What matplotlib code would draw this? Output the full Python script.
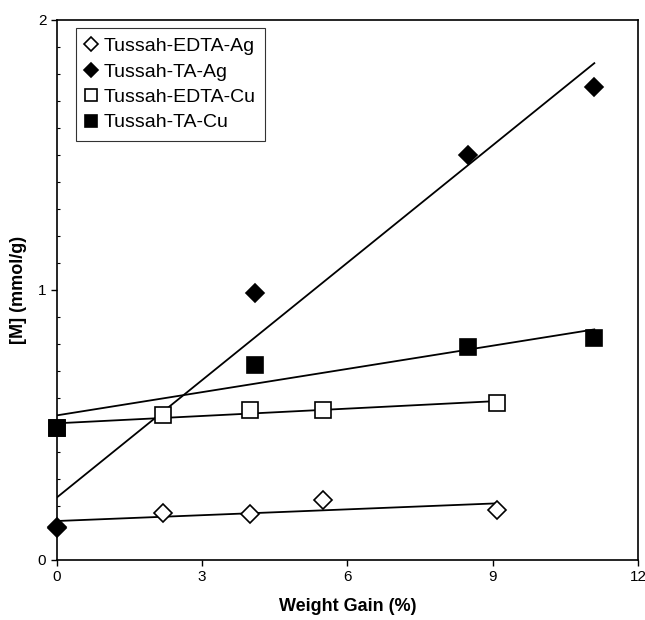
import numpy as np
import matplotlib
matplotlib.use("Agg")
import matplotlib.pyplot as plt
from matplotlib.ticker import MultipleLocator

plt.rcParams['font.family'] = ['Liberation Sans', 'DejaVu Sans']

# weight gain (%) and metal uptake [M] (mmol/g)
x_edta_ag = [0, 2.2, 4.0, 5.5, 9.1]
y_edta_ag = [0.12, 0.174, 0.17, 0.22, 0.185]

x_ta_ag = [0, 4.1, 8.5, 11.1]
y_ta_ag = [0.118, 0.99, 1.50, 1.75]

x_edta_cu = [0, 2.2, 4.0, 5.5, 9.1]
y_edta_cu = [0.49, 0.537, 0.555, 0.555, 0.58]

x_ta_cu = [0, 4.1, 8.5, 11.1]
y_ta_cu = [0.49, 0.72, 0.79, 0.82]

series = [
    ("Tussah-EDTA-Ag", x_edta_ag, y_edta_ag, "D", "white", 9),
    ("Tussah-TA-Ag", x_ta_ag, y_ta_ag, "D", "black", 9),
    ("Tussah-EDTA-Cu", x_edta_cu, y_edta_cu, "s", "white", 11),
    ("Tussah-TA-Cu", x_ta_cu, y_ta_cu, "s", "black", 11),
]

fig = plt.figure(figsize=(6.45, 6.2), dpi=100)
ax = fig.add_axes([0.088, 0.097, 0.901, 0.871])

for label, xs, ys, mk, fc, ms in series:
    xs = np.array(xs)
    ys = np.array(ys)
    # linear trendline over the range of each series
    k, b = np.polyfit(xs, ys, 1)
    xl = np.array([xs.min(), xs.max()])
    ax.plot(xl, k * xl + b, color="black", lw=1.3, zorder=2)
    ax.plot(xs, ys, linestyle="none", marker=mk, ms=ms, mfc=fc,
            mec="black", mew=1.2, label=label, zorder=3, clip_on=False)

ax.set_xlim(0, 12)
ax.set_ylim(0, 2)
ax.set_xticks([0, 3, 6, 9, 12])
ax.set_yticks([0, 1, 2])
ax.yaxis.set_minor_locator(MultipleLocator(0.1))
ax.tick_params(axis="both", which="major", direction="out", length=4,
               labelsize=11, width=1)
ax.tick_params(axis="y", which="minor", direction="in", length=2, width=0.8)
for s in ax.spines.values():
    s.set_linewidth(1.2)

ax.set_xlabel("Weight Gain (%)", fontsize=13, fontweight="bold", labelpad=10)
ax.set_ylabel("[M] (mmol/g)", fontsize=13, fontweight="bold", labelpad=8)

leg = ax.legend(loc="upper left", bbox_to_anchor=(0.033, 0.985), fontsize=14,
                frameon=True, fancybox=False, edgecolor="black",
                handlelength=0.6, handletextpad=0.3, borderpad=0.5,
                borderaxespad=0, labelspacing=0.4, markerscale=0.8)
leg.get_frame().set_linewidth(0.8)

fig.savefig("out.png", dpi=100)
